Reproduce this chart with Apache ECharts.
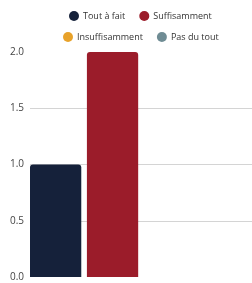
<!DOCTYPE html>
<html>
<head>
<meta charset="utf-8">
<script src="https://cdn.jsdelivr.net/npm/echarts@6/dist/echarts.min.js"></script>
<style>html,body{margin:0;padding:0;background:#fff}#c{width:252px;height:283px}</style>
</head>
<body>
<div id="c"></div>
<script>
var categories = [''];
var seriesNames = ['Tout à fait', 'Suffisamment', 'Insuffisamment', 'Pas du tout'];
var toutAFait = [1];
var suffisamment = [2];
var insuffisamment = [0];
var pasDuTout = [0];
var yTicks = [0, 0.5, 1.0, 1.5, 2.0];
var colors = ['#15213a', '#9b1c2a', '#e8a22a', '#6f8c94'];

var chart = echarts.init(document.getElementById('c'), null, {renderer: 'canvas'});
var font = '"Open Sans", sans-serif';
function legend(names, left, top) {
  return {
    data: names, left: left, top: top, padding: 0, itemGap: 14,
    icon: 'circle', itemWidth: 10, itemHeight: 10,
    textStyle: {fontFamily: font, fontSize: 9, color: '#333', padding: [0, 0, 0, -1]}
  };
}
var values = [toutAFait, suffisamment, insuffisamment, pasDuTout];
chart.setOption({
  animation: false,
  color: colors,
  legend: [legend(seriesNames.slice(0, 2), 69, 11), legend(seriesNames.slice(2), 63, 32)],
  grid: {left: 30, right: 0, top: 52, bottom: 6, containLabel: false},
  xAxis: {type: 'category', data: categories, show: false},
  yAxis: {
    type: 'value', min: yTicks[0], max: yTicks[yTicks.length - 1], interval: 0.5,
    axisLine: {show: false}, axisTick: {show: false},
    axisLabel: {fontFamily: font, fontSize: 10, color: '#444', margin: 6,
      formatter: function (v) { return v.toFixed(1); }},
    splitLine: {show: true, showMinLine: false, showMaxLine: false, lineStyle: {color: '#d4d4d4', width: 1}}
  },
  series: seriesNames.map(function (n, i) {
    return {
      name: n, type: 'bar', data: values[i],
      barGap: '11%', barCategoryGap: '0%',
      itemStyle: {borderRadius: [3, 3, 0, 0]}
    };
  })
});
</script>
</body>
</html>
